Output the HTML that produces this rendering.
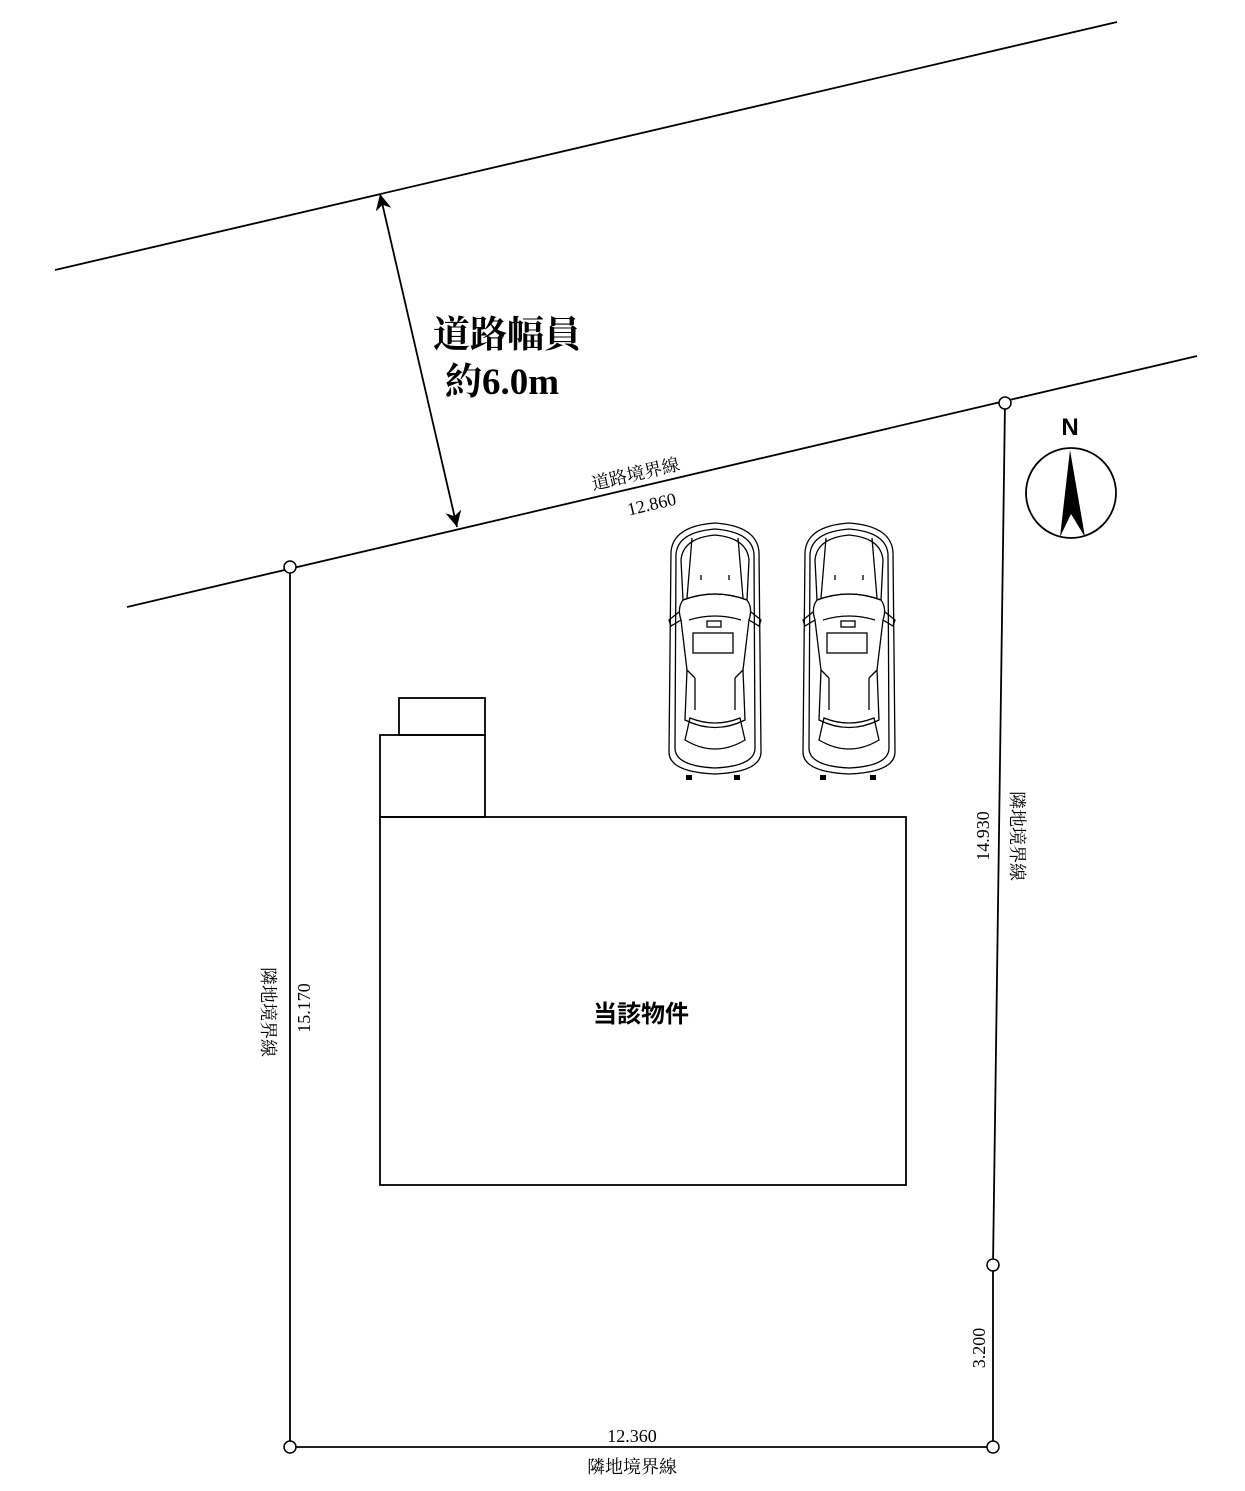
<!DOCTYPE html>
<html><head><meta charset="utf-8"><style>
html,body{margin:0;padding:0;background:#fff}
svg{display:block}
.s{font-family:"Liberation Serif","Noto Serif CJK SC",serif}
</style></head><body>
<svg width="1245" height="1491" viewBox="0 0 1245 1491" xmlns="http://www.w3.org/2000/svg">
<defs>
<marker id="ar" viewBox="0 0 10 10" refX="10" refY="5" markerWidth="22" markerHeight="16" orient="auto-start-reverse" markerUnits="userSpaceOnUse"><path d="M0,0 L10,5 L0,10 L3,5 Z" fill="#000"/></marker>
<g id="car" fill="none" stroke="#000" stroke-width="1.3">
<path d="M6,32 Q8,6 50,3 Q92,6 94,32 L96,232 Q96,252 50,254 Q4,252 4,232 Z"/>
<path d="M11,34 Q13,12 50,9 Q87,12 89,34 L90,228 Q90,246 50,248 Q10,246 10,228 Z"/>
<path d="M16,40 Q18,18 50,15 Q82,18 84,40 L82,80 Q50,68 18,80 Z"/>
<path d="M27,18 L22,78 M73,18 L78,78"/>
<path d="M18,80 Q50,68 82,80 Q88,88 84,100 L78,150 L80,200 Q50,215 20,200 L22,150 L16,100 Q12,88 18,80 Z"/>
<path d="M24,100 Q50,92 76,100 M22,150 L30,158 M78,150 L70,158 M30,158 L30,190 M70,158 L70,190"/>
<path d="M25,198 Q50,208 75,198 L80,220 Q50,238 20,220 Z"/>
<path d="M14,92 L4,100 L6,106 L16,100 M86,92 L96,100 L94,106 L84,100"/>
<path d="M36,55 L36,60 M64,55 L64,60"/>
<rect x="42" y="101" width="14" height="6"/>
<rect x="28" y="113" width="40" height="20"/>
</g>
</defs>
<g stroke="#000" stroke-width="1.8" fill="none">
<line x1="55" y1="270" x2="1117" y2="22"/>
<line x1="127" y1="607" x2="1197" y2="356"/>
<polyline points="290,567 290,1447 993,1447 993,1265 1005,403"/>
<line x1="380" y1="194" x2="457" y2="527" marker-start="url(#ar)" marker-end="url(#ar)"/>
<rect x="380" y="817" width="526" height="368"/>
<rect x="380" y="735" width="105" height="82"/>
<rect x="399" y="698" width="86" height="37"/>
<circle cx="1071" cy="493" r="45"/>
</g>
<g stroke="#000" stroke-width="1.5" fill="#fff">
<circle cx="290" cy="567" r="6"/><circle cx="1005" cy="403" r="6"/>
<circle cx="993" cy="1265" r="6"/><circle cx="290" cy="1447" r="6"/><circle cx="993" cy="1447" r="6"/>
</g>
<path d="M1070,450 L1085,537 L1071,514 L1060,537 Z" fill="#000"/>
<text x="1070" y="435" font-family="Liberation Sans,sans-serif" font-weight="bold" font-size="24" text-anchor="middle">N</text>
<use href="#car" x="665" y="520"/>
<use href="#car" x="799" y="520"/>
<g fill="#000"><rect x="686" y="775" width="6" height="5"/><rect x="734" y="775" width="6" height="5"/><rect x="820" y="775" width="6" height="5"/><rect x="870" y="775" width="6" height="5"/></g>
<text class="s" x="433" y="347" font-size="37" font-weight="bold">道路幅員</text>
<text class="s" x="445" y="394" font-size="37" font-weight="bold">約6.0m</text>
<text class="s" font-size="18" text-anchor="middle" transform="translate(637,480) rotate(-13.2)">道路境界線</text>
<text class="s" font-size="18" text-anchor="middle" transform="translate(653,510) rotate(-13.2)">12.860</text>
<text class="s" font-size="18" text-anchor="middle" transform="translate(989,836) rotate(-90)">14.930</text>
<text class="s" font-size="18" text-anchor="middle" transform="translate(1011,836) rotate(90)">隣地境界線</text>
<text class="s" font-size="18" text-anchor="middle" transform="translate(262,1012) rotate(90)">隣地境界線</text>
<text class="s" font-size="18" text-anchor="middle" transform="translate(310,1008) rotate(-90)">15.170</text>
<text class="s" font-size="18" text-anchor="middle" transform="translate(985,1348) rotate(-90)">3.200</text>
<text class="s" x="632" y="1442" font-size="18" text-anchor="middle">12.360</text>
<text class="s" x="632" y="1473" font-size="18" text-anchor="middle">隣地境界線</text>
<text x="641" y="1022" font-family="Liberation Sans,'Noto Sans CJK JP',sans-serif" font-weight="bold" font-size="24" text-anchor="middle">当該物件</text>
</svg>
</body></html>
